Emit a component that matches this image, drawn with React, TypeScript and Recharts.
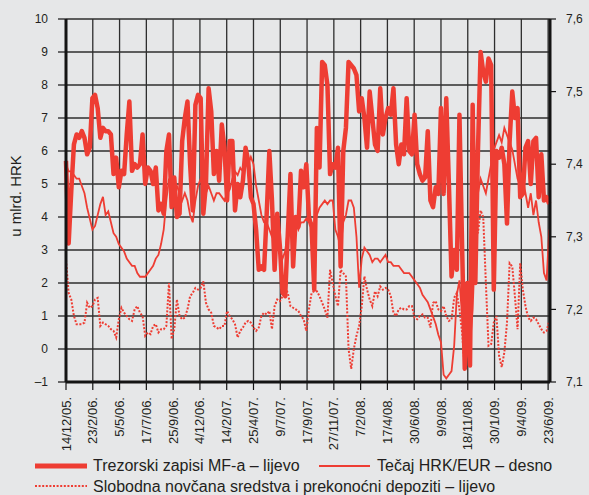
import { CartesianGrid, Line, LineChart, XAxis, YAxis } from "recharts";

const RED = "#ee3d33";
const INK = "#231f20";
const AXIS = "#141414";
const GRID = "#2e2e2e";
const BG = "#e6e7e8";
const FONT = "'Liberation Sans', Arial, Helvetica, sans-serif";

// tick dates, 71 days apart
const tickLabels = [
  "14/12/05.", "23/2/06.", "5/5/06.", "17/7/06.", "25/9/06.", "4/12/06.", "14/2/07.",
  "25/4/07.", "9/7/07.", "17/9/07.", "27/11/07.", "7/2/08.", "17/4/08.", "30/6/08.",
  "9/9/08.", "18/11/08.", "30/1/09.", "9/4/09.", "23/6/09.",
];
const tickDays = tickLabels.map((_, i) => i * 71);

const leftTicks = [-1, 0, 1, 2, 3, 4, 5, 6, 7, 8, 9, 10];
const rightTicks = [7.1, 7.2, 7.3, 7.4, 7.5, 7.6];

// weekly readings from 14/12/05, u mlrd. HRK
const trezorski = [
  5.7, 3.2, 4.8, 6.2, 6.5, 6.4, 6.6, 6.4, 5.9, 6.1,
  7.6, 7.7, 7.3, 6.4, 6.7, 6.6, 6.6, 6.5, 5.3, 5.8,
  4.9, 5.4, 5.3, 6.5, 7.5, 5.4, 5.6, 5.5, 5.6, 6.5,
  5.0, 5.5, 5.4, 5.0, 5.5, 4.2, 4.4, 4.1, 6.0, 6.5,
  4.3, 5.2, 4.0, 4.1, 6.3, 7.0, 7.5, 5.6, 4.2, 7.4,
  7.7, 7.6, 4.1, 5.0, 7.9, 7.2, 5.3, 6.0, 5.1, 6.8,
  6.1, 4.5, 6.3, 6.3, 4.2, 5.0, 4.6, 5.1, 6.1, 5.7,
  4.6, 4.4, 3.6, 2.4, 2.5, 2.4, 4.1, 6.0, 4.5, 2.4,
  4.1, 3.1, 1.7, 1.6, 3.5, 5.3, 2.5, 4.0, 3.7, 5.4,
  4.9, 5.6, 4.0, 3.7, 1.8, 6.7, 5.5, 8.7, 8.6, 8.0,
  5.3, 5.6, 5.5, 6.1, 2.5, 6.0, 6.7, 8.7, 8.6, 8.5,
  8.3, 7.2, 7.6, 7.0, 6.1, 7.8, 7.0, 6.2, 6.0, 7.9,
  6.5, 7.0, 7.3, 7.1, 7.9, 6.2, 5.6, 6.2, 5.9, 7.6,
  6.0, 5.9, 7.1, 5.6, 5.3, 5.1, 5.2, 6.6, 4.5, 4.3,
  4.9, 4.7, 7.3, 4.7, 7.6, 5.0, 2.2, 3.0, 2.4, 7.1,
  3.1, -0.6, 2.0, -0.5, 7.4, 2.0, 6.0, 9.0, 8.4, 8.1,
  8.8, 8.6, 1.8, 6.0, 5.8, 6.1, 5.6, 3.8, 6.3, 7.8,
  7.0, 7.3, 4.6, 4.7, 6.1, 6.3, 5.0, 6.3, 6.4, 4.6,
  5.9, 4.5, 4.6, 4.4,
];

// HRK/EUR, right axis
const tecaj = [
  7.40, 7.39, 7.39, 7.385, 7.38, 7.38, 7.37, 7.36, 7.34, 7.325,
  7.31, 7.315, 7.33, 7.345, 7.355, 7.33, 7.335, 7.32, 7.305, 7.30,
  7.29, 7.285, 7.28, 7.27, 7.265, 7.26, 7.26, 7.25, 7.245, 7.245,
  7.245, 7.25, 7.255, 7.26, 7.27, 7.275, 7.29, 7.31, 7.35, 7.38,
  7.37, 7.36, 7.37, 7.36, 7.35, 7.36, 7.35, 7.33, 7.32, 7.35,
  7.37, 7.38, 7.37, 7.36, 7.37, 7.36, 7.35, 7.36, 7.36, 7.355,
  7.35, 7.36, 7.365, 7.38, 7.39, 7.385, 7.395, 7.39, 7.40, 7.40,
  7.41, 7.40, 7.37, 7.35, 7.33, 7.32, 7.32, 7.31, 7.30, 7.30,
  7.295, 7.28, 7.27, 7.28, 7.31, 7.32, 7.325, 7.32, 7.31, 7.32,
  7.32, 7.325, 7.32, 7.32, 7.315, 7.33, 7.34, 7.345, 7.35, 7.345,
  7.35, 7.35, 7.31, 7.30, 7.285, 7.32, 7.33, 7.35, 7.35, 7.34,
  7.30, 7.23, 7.27, 7.285, 7.28, 7.275, 7.265, 7.27, 7.27, 7.265,
  7.27, 7.275, 7.265, 7.265, 7.26, 7.26, 7.26, 7.255, 7.25, 7.25,
  7.25, 7.245, 7.24, 7.235, 7.23, 7.22, 7.215, 7.21, 7.20, 7.19,
  7.18, 7.165, 7.155, 7.11, 7.105, 7.11, 7.115, 7.15, 7.22, 7.24,
  7.19, 7.15, 7.14, 7.15, 7.20, 7.30, 7.36, 7.38, 7.37, 7.36,
  7.38, 7.40, 7.42, 7.43, 7.44, 7.43, 7.45, 7.44, 7.43, 7.42,
  7.40, 7.38, 7.37, 7.38, 7.36, 7.34, 7.36, 7.33, 7.35, 7.32,
  7.30, 7.25, 7.24, 7.31,
];

// free funds and overnight deposits, left axis
const slobodna = [
  2.7, 1.7, 1.5, 1.0, 0.75, 0.75, 0.75, 0.8, 1.4, 1.25,
  1.3, 1.5, 1.55, 0.7, 0.8, 0.75, 0.7, 0.6, 0.55, 0.35,
  0.9, 1.25, 1.1, 1.0, 0.9, 0.85, 1.2, 1.3, 1.1, 1.0,
  0.4, 0.5, 0.45, 0.7, 0.75, 0.5, 0.6, 0.6, 0.7, 2.0,
  0.3, 0.6, 1.5, 1.0, 0.9, 0.95, 1.2, 1.6, 1.7, 1.85,
  1.8, 1.85, 2.05, 1.4, 1.2, 1.1, 0.7, 0.65, 0.6, 0.7,
  0.7, 1.15, 1.0, 0.9, 0.75, 0.35, 0.55, 0.65, 0.8, 0.85,
  0.8, 0.65, 0.55, 0.65, 1.0, 1.1, 1.05, 1.15, 0.6, 1.3,
  1.5, 1.45, 1.6, 1.85, 1.7, 1.3, 1.25, 1.2, 1.15, 1.0,
  0.9, 0.55, 1.2, 1.7, 1.75, 1.75, 1.6, 1.4, 1.2, 0.95,
  2.4, 2.0, 1.6, 1.3, 2.4, 2.3, 2.2, 0.0, -0.6, 0.0,
  0.4, 0.7, 1.3, 2.2, 1.8, 1.5, 1.3, 1.75, 1.6, 1.9,
  1.8, 1.85, 1.8, 1.6, 1.1, 1.0, 1.2, 1.25, 1.2, 1.2,
  1.3, 1.3, 0.95, 0.9, 1.0, 1.05, 0.95, 0.95, 0.65, 1.4,
  1.45, 1.2, 1.15, 1.3, 1.0, 0.85, 0.9, 1.55, 1.7, 1.2,
  0.5, -0.6, 0.0, 1.0, 2.5, 4.3, 3.5, 4.2, 4.0, 2.0,
  0.1, 0.15, 0.8, 1.0, -0.2, -0.55, -0.1, 0.8, 2.6, 2.5,
  1.6, 0.6, 2.6, 1.8, 1.3, 0.95, 0.85, 0.95, 0.9, 0.75,
  0.6, 0.5, 0.55, 0.85,
];

const rows = trezorski.map((v, i) => ({
  day: i * 7,
  trezorski: v,
  tecaj: tecaj[i],
  slobodna: slobodna[i],
}));

function DateTick(props: any) {
  const { x, y, payload } = props;
  const label = tickLabels[tickDays.indexOf(payload.value)];
  return (
    <text
      x={x}
      y={y}
      transform={`rotate(-90 ${x} ${y})`}
      textAnchor="end"
      dy="0.35em"
      fill={INK}
      fontSize={13}
      fontFamily={FONT}
    >
      {label}
    </text>
  );
}

const tickStyle = { fontSize: 12, fill: INK, fontFamily: FONT };

export default function App() {
  return (
    <div style={{ position: "absolute", left: 0, top: 0, width: 589, height: 495, background: BG, overflow: "hidden" }}>
      <LineChart width={589} height={495} data={rows} margin={{ top: 19, right: 0, bottom: 40, left: 0 }}>
        <CartesianGrid yAxisId="l" stroke={GRID} strokeWidth={1.3} fill="none" />
        <XAxis
          dataKey="day"
          type="number"
          domain={[0, 1283]}
          ticks={tickDays}
          interval={0}
          height={73}
          tickSize={8}
          tickMargin={7}
          axisLine={{ stroke: AXIS, strokeWidth: 3 }}
          tickLine={{ stroke: AXIS, strokeWidth: 1.2 }}
          tick={(p: any) => <DateTick {...p} />}
        />
        <YAxis
          yAxisId="l"
          domain={[-1, 10]}
          ticks={leftTicks}
          interval={0}
          width={66}
          tickSize={8}
          tickMargin={10}
          allowDataOverflow
          axisLine={{ stroke: AXIS, strokeWidth: 3 }}
          tickLine={{ stroke: AXIS, strokeWidth: 1.2 }}
          tick={tickStyle}
          tickFormatter={(v: number) => (v < 0 ? `–${Math.abs(v)}` : `${v}`)}
        />
        <YAxis
          yAxisId="r"
          orientation="right"
          domain={[7.1, 7.6]}
          ticks={rightTicks}
          interval={0}
          width={39}
          tickSize={6}
          tickMargin={10}
          allowDataOverflow
          axisLine={{ stroke: AXIS, strokeWidth: 3 }}
          tickLine={{ stroke: AXIS, strokeWidth: 1.2 }}
          tick={tickStyle}
          tickFormatter={(v: number) => v.toFixed(1).replace(".", ",")}
        />
        <Line
          yAxisId="l"
          type="linear"
          dataKey="slobodna"
          stroke={RED}
          strokeWidth={2}
          strokeDasharray="2 1.6"
          dot={false}
          isAnimationActive={false}
        />
        <Line
          yAxisId="r"
          type="linear"
          dataKey="tecaj"
          stroke={RED}
          strokeWidth={1.8}
          dot={false}
          isAnimationActive={false}
        />
        <Line
          yAxisId="l"
          type="linear"
          dataKey="trezorski"
          stroke={RED}
          strokeWidth={4.5}
          strokeLinejoin="round"
          dot={false}
          isAnimationActive={false}
        />
      </LineChart>
      <svg
        width={589}
        height={495}
        style={{ position: "absolute", left: 0, top: 0, pointerEvents: "none" }}
        fontFamily={FONT}
        fill={INK}
      >
        <text x={20.5} y={196} transform="rotate(-90 20.5 196)" textAnchor="middle" fontSize={15}>
          u mlrd. HRK
        </text>
        <line x1={35} x2={87} y1={466} y2={466} stroke={RED} strokeWidth={5} />
        <text x={93} y={471} fontSize={16}>Trezorski zapisi MF-a – lijevo</text>
        <line x1={319} x2={370} y1={466} y2={466} stroke={RED} strokeWidth={2} />
        <text x={377} y={471} fontSize={16}>Tečaj HRK/EUR – desno</text>
        <line x1={35} x2={87} y1={486} y2={486} stroke={RED} strokeWidth={2} strokeDasharray="2 1.6" />
        <text x={93} y={492} fontSize={16}>Slobodna novčana sredstva i prekonoćni depoziti – lijevo</text>
      </svg>
    </div>
  );
}
